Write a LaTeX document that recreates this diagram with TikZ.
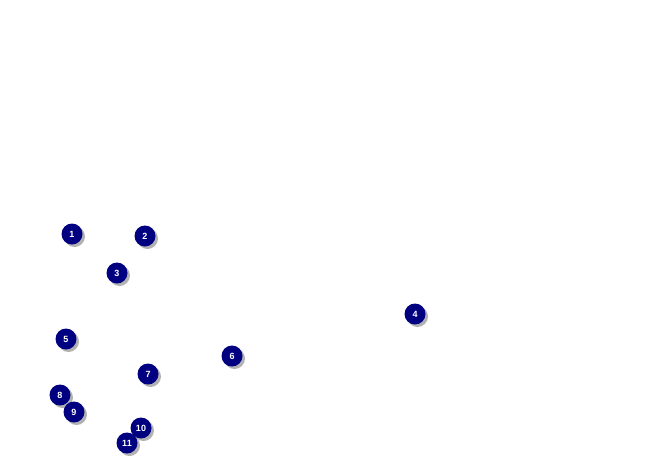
\documentclass[tikz,border=0pt]{standalone}
\usepackage{fontspec}
\setmainfont{Liberation Sans}
\begin{document}
\begin{tikzpicture}[x=1pt,y=-1pt,
  mk/.style={circle,fill={rgb,255:red,0;green,0;blue,128},minimum size=21pt,inner sep=0pt,
    text=white,font=\fontsize{9}{9}\selectfont\bfseries}]
\useasboundingbox (0,0) rectangle (647,461);
\foreach \n/\x/\y in {1/72/234,2/145/236,3/117/273,4/415/314,5/66/339,6/232/356,7/148/374,8/60/395,9/74/412,10/141/428,11/127/443}{
  \fill[gray!60] (\x+2.5,\y+2.5) circle (10.5);
  \node[mk] (n\n) at (\x,\y) {\n};
}
\end{tikzpicture}
\end{document}
